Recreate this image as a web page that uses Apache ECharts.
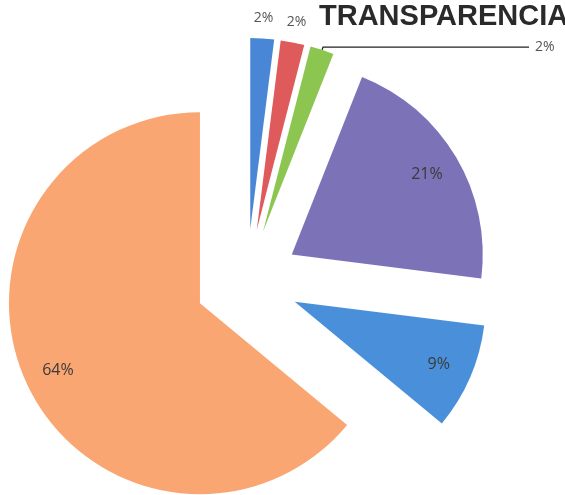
<!DOCTYPE html>
<html>
<head>
<meta charset="utf-8">
<script src="https://cdn.jsdelivr.net/npm/echarts@6/dist/echarts.min.js"></script>
<style>
  html, body { margin: 0; padding: 0; background: #fff; }
  #chart { width: 565px; height: 495px; }
</style>
</head>
<body>
<div id="chart"></div>
<script>
// slices, clockwise from 12 o'clock
let categories = ['A', 'B', 'C', 'D', 'E', 'F']
let values = [2, 2, 2, 21, 9, 64]
let colors = ['#4a86d6', '#df5a5a', '#8cc650', '#7b72b8', '#4a8fda', '#f9a673']
let titleText = 'TRANSPARENCIA'

let center = [247, 281]
let radius = 191
let leaderIndex = 2 // the small slice whose label sits on a long line

let chart = echarts.init(document.getElementById('chart'))

let labelFont = 'Open Sans'

let sliceData = values.map((v, i) => ({
  name: categories[i],
  value: v,
  selected: true,
  itemStyle: { color: colors[i] },
  label: { show: i === leaderIndex },
  labelLine: { show: i === leaderIndex }
}))

// transparent copies used only to place the labels
function labelData(test) {
  return values.map((v, i) => ({
    name: categories[i],
    value: v,
    itemStyle: { color: 'rgba(0,0,0,0)' },
    label: { show: test(v, i) }
  }))
}

chart.setOption({
  animation: false,
  backgroundColor: '#fff',
  title: {
    text: titleText,
    left: 314,
    top: -3,
    textStyle: {
      fontFamily: 'Liberation Sans',
      fontWeight: 'bold',
      fontSize: 29,
      color: '#2a2a2a'
    }
  },
  series: [
    {
      type: 'pie',
      center: center,
      radius: radius,
      startAngle: 90,
      clockwise: true,
      selectedMode: 'multiple',
      selectedOffset: 52,
      avoidLabelOverlap: false,
      emphasis: { disabled: true },
      label: {
        position: 'outside',
        formatter: '{d}%',
        fontFamily: labelFont,
        fontSize: 14,
        color: '#555',
        distanceToLabelLine: 6
      },
      labelLine: {
        length: 3,
        length2: 206,
        smooth: false,
        lineStyle: { color: '#222', width: 1.3 }
      },
      data: sliceData
    },
    {
      type: 'pie',
      silent: true,
      center: center,
      radius: [198, 214],
      startAngle: 90,
      clockwise: true,
      avoidLabelOverlap: false,
      label: {
        position: 'inside',
        formatter: '{d}%',
        fontFamily: labelFont,
        fontSize: 16,
        color: '#3a3a3a'
      },
      labelLine: { show: false },
      data: labelData(v => v >= 5)
    },
    {
      type: 'pie',
      silent: true,
      center: center,
      radius: [252, 270],
      startAngle: 90,
      clockwise: true,
      avoidLabelOverlap: false,
      label: {
        position: 'inside',
        formatter: '{d}%',
        fontFamily: labelFont,
        fontSize: 14,
        color: '#555'
      },
      labelLine: { show: false },
      data: labelData((v, i) => v < 5 && i !== leaderIndex)
    }
  ]
})
</script>
</body>
</html>
